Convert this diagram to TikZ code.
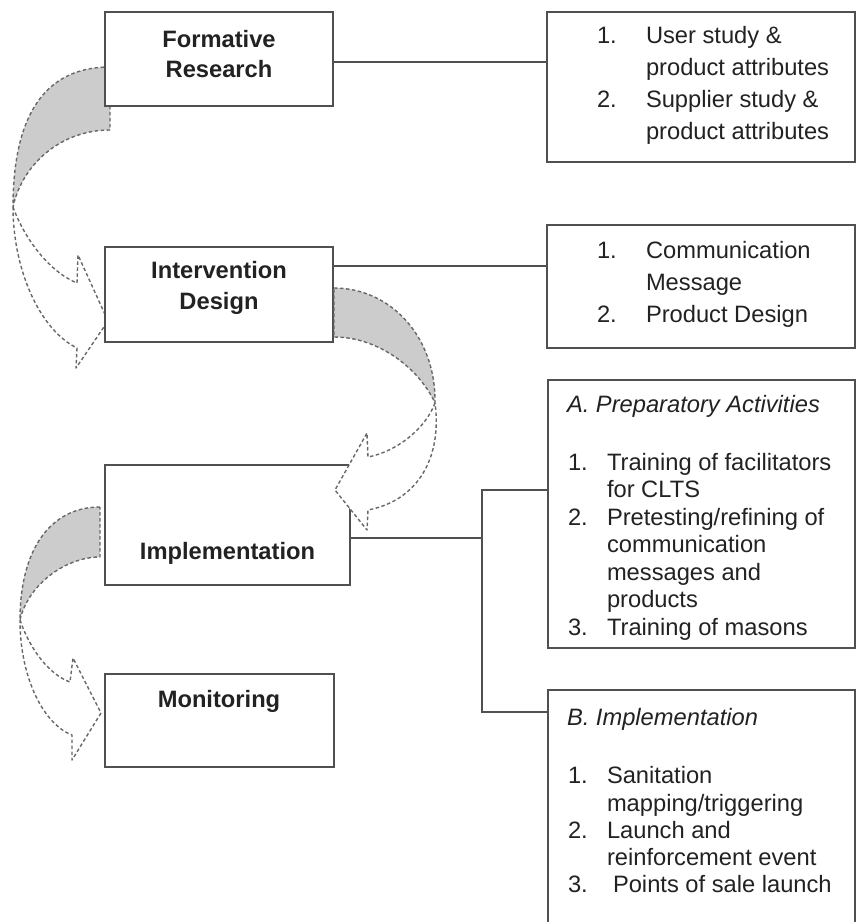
\documentclass[tikz,border=0pt]{standalone}
\usepackage{fontspec}
\setmainfont{Liberation Sans}
\usetikzlibrary{calc}
\definecolor{frame}{HTML}{505050}
\definecolor{ink}{HTML}{222222}
\definecolor{dashc}{HTML}{686868}
\definecolor{shade}{HTML}{CCCCCC}
\tikzset{
  box/.style={draw=frame, line width=1.6pt, fill=white, rectangle, inner sep=0pt, outer sep=0pt, anchor=north west},
  link/.style={draw=frame, line width=1.4pt},
  txt/.style={anchor=base west, inner sep=0pt, outer sep=0pt, text=ink, font=\fontsize{23.7}{27.7}\selectfont},
  lbl/.style={anchor=base, inner sep=0pt, outer sep=0pt, text=ink, font=\fontsize{23.7}{27.7}\selectfont\bfseries},
  back/.style={fill=shade, draw=dashc, line width=1.4pt, dash pattern=on 3.5pt off 2.5pt, line join=round},
  front/.style={fill=white, draw=dashc, line width=1.4pt, dash pattern=on 3.5pt off 2.5pt, line join=round},
}
\begin{document}
\begin{tikzpicture}[x=1pt,y=-1pt]
\useasboundingbox (0,0) rectangle (857,922);
\clip (0,0) rectangle (857,922);
\fill[white] (0,0) rectangle (857,922);

% curved arrow: formative research -> intervention design (lies behind the boxes)
\path[back] (110,67) .. controls (45,67) and (13,115) .. (13,207)
  .. controls (22,165) and (60,130) .. (110,130) -- cycle;
\path[front] (13,207) .. controls (25,240) and (50,272) .. (77,283)
  -- (78,255) -- (108,321) -- (76,368) -- (77,348)
  .. controls (40,330) and (13,270) .. (13,207) -- cycle;

% stage boxes
\node[box, minimum width=228pt, minimum height=94pt]  (fr) at (105,12)  {};
\node[box, minimum width=228pt, minimum height=95pt]  (ib) at (105,247) {};
\node[box, minimum width=245pt, minimum height=120pt] (im) at (105,465) {};
\node[box, minimum width=229pt, minimum height=93pt]  (mo) at (105,674) {};

% detail boxes
\node[box, minimum width=308pt, minimum height=150pt] (b1) at (547,12)  {};
\node[box, minimum width=308pt, minimum height=123pt] (b2) at (547,225) {};
\node[box, minimum width=307pt, minimum height=268pt] (ba) at (548,380) {};
\node[box, minimum width=307pt, minimum height=260pt] (bb) at (548,690) {};

% connectors
\coordinate (frR) at ($(fr.north east)+(0,50)$);
\coordinate (ibR) at ($(ib.north east)+(0,19)$);
\coordinate (imR) at ($(im.north east)+(0,73)$);
\coordinate (jA) at ($(ba.north west)+(-66,110)$);
\coordinate (jB) at ($(bb.north west)+(-66,22)$);
\draw[link] (frR) -- (frR -| b1.west);
\draw[link] (ibR) -- (ibR -| b2.west);
\draw[link] (imR) -- (imR -| jA);
\draw[link] (ba.west |- jA) -- (jA) -- (jB) -- (bb.west |- jB);

% stage labels
\node[lbl] (frt1) at (219,47)  {Formative};
\node[lbl] (frt2) at (219,77)  {Research};
\node[lbl] (ibt1) at (219,278) {Intervention};
\node[lbl] (ibt2) at (219,309) {Design};
\node[lbl] (imt)  at (227.5,559) {Implementation};
\node[lbl] (mot)  at (219,707) {Monitoring};

% formative research details
\node[txt] (b1n1) at (597,43)  {1.};
\node[txt] (b1t1) at (646,43)  {User study \&};
\node[txt] (b1t2) at (646,75)  {product attributes};
\node[txt] (b1n2) at (597,107) {2.};
\node[txt] (b1t3) at (646,107) {Supplier study \&};
\node[txt] (b1t4) at (646,139) {product attributes};

% intervention design details
\node[txt] (b2n1) at (597,258) {1.};
\node[txt] (b2t1) at (646,258) {Communication};
\node[txt] (b2t2) at (646,290) {Message};
\node[txt] (b2n2) at (597,322) {2.};
\node[txt] (b2t3) at (646,322) {Product Design};

% preparatory activities
\node[txt] (bah) at (567,412) {\itshape A. Preparatory Activities};
\node[txt] (ban1) at (568,470) {1.};
\node[txt] (bat1) at (607,470) {Training of facilitators};
\node[txt] (bat2) at (607,497) {for CLTS};
\node[txt] (ban2) at (568,525) {2.};
\node[txt] (bat3) at (607,525) {Pretesting/refining of};
\node[txt] (bat4) at (607,552) {communication};
\node[txt] (bat5) at (607,580) {messages and};
\node[txt] (bat6) at (607,607) {products};
\begin{scope}
  \clip (548,380) rectangle (855,641);
  \node[txt] (ban3) at (568,635) {3.};
  \node[txt] (bat7) at (607,635) {Training of masons};
\end{scope}

% implementation activities
\node[txt] (bbh) at (567,725) {\itshape B. Implementation};
\node[txt] (bbn1) at (568,783) {1.};
\node[txt] (bbt1) at (607,783) {Sanitation};
\node[txt] (bbt2) at (607,811) {mapping/triggering};
\node[txt] (bbn2) at (568,838) {2.};
\node[txt] (bbt3) at (607,838) {Launch and};
\node[txt] (bbt4) at (607,865) {reinforcement event};
\node[txt] (bbn3) at (568,892) {3.};
\node[txt] (bbt5) at (613,892) {Points of sale launch};

% curved arrow: intervention design -> implementation (on top of the boxes)
\path[back] (334,288) .. controls (390,288) and (436,336) .. (435,403)
  .. controls (420,370) and (380,337) .. (334,337) -- cycle;
\path[front] (435,403) .. controls (425,430) and (395,452) .. (368,457)
  -- (367,433) -- (335,490) -- (367,530) -- (368,510)
  .. controls (420,500) and (442,455) .. (435,403) -- cycle;

% curved arrow: implementation -> monitoring
\path[back] (100,507) .. controls (50,507) and (20,550) .. (20,620)
  .. controls (28,585) and (65,557) .. (100,557) -- cycle;
\path[front] (20,620) .. controls (30,650) and (50,675) .. (70,682)
  -- (73,658) -- (101,713) -- (72,760) -- (72,735)
  .. controls (45,725) and (20,680) .. (20,620) -- cycle;
\end{tikzpicture}
\end{document}
